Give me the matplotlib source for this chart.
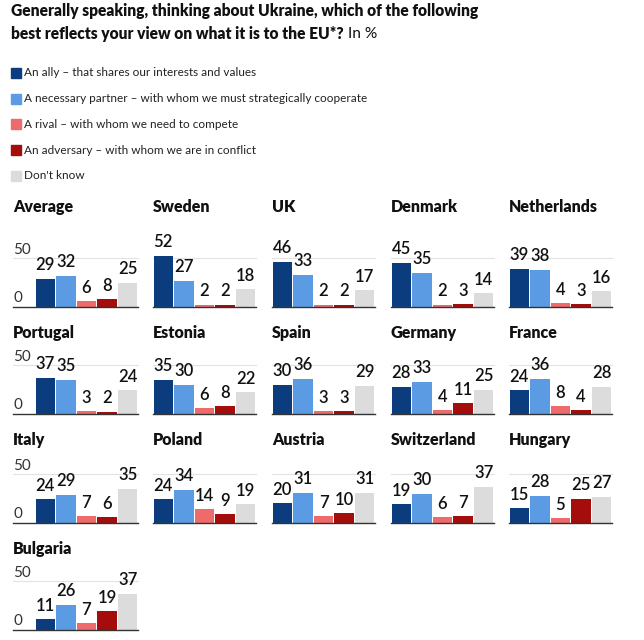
import matplotlib
matplotlib.use('Agg')
import matplotlib.pyplot as plt
from matplotlib.patches import Rectangle

plt.rcParams['font.family'] = ['Lato', 'DejaVu Sans']

# data, in %
countries = ['Average', 'Sweden', 'UK', 'Denmark', 'Netherlands',
             'Portugal', 'Estonia', 'Spain', 'Germany', 'France',
             'Italy', 'Poland', 'Austria', 'Switzerland', 'Hungary',
             'Bulgaria']
ally = [29, 52, 46, 45, 39, 37, 35, 30, 28, 24, 24, 24, 20, 19, 15, 11]
partner = [32, 27, 33, 35, 38, 35, 30, 36, 33, 36, 29, 34, 31, 30, 28, 26]
rival = [6, 2, 2, 2, 4, 3, 6, 3, 4, 8, 7, 14, 7, 6, 5, 7]
adversary = [8, 2, 2, 3, 3, 2, 8, 3, 11, 4, 6, 9, 10, 7, 25, 19]
dont_know = [25, 18, 17, 14, 16, 24, 22, 29, 25, 28, 35, 19, 31, 37, 27, 37]

categories = ['An ally – that shares our interests and values',
              'A necessary partner – with whom we must strategically cooperate',
              'A rival – with whom we need to compete',
              'An adversary – with whom we are in conflict',
              "Don't know"]
colors = ['#0b3d7e', '#5b9be3', '#ef6b6b', '#a50c0c', '#dcdcdc']

W, H = 644, 640
fig = plt.figure(figsize=(W / 100, H / 100), dpi=100)


def fx(px):
    return px / W


def fy(py):
    return 1 - py / H


# title
fig.text(fx(11), fy(11), 'Generally speaking, thinking about Ukraine, which of the following',
         fontsize=11.2, fontweight='heavy', va='center', color='#111111')
t = fig.text(fx(11), fy(34), 'best reflects your view on what it is to the EU*?',
             fontsize=11.2, fontweight='heavy', va='center', color='#111111')
fig.canvas.draw()
bb = t.get_window_extent()
fig.text(bb.x1 / W + fx(4), fy(34), 'In %', fontsize=11.2, va='center', color='#111111')

# legend
for i, (lab, c) in enumerate(zip(categories, colors)):
    y = 73 + i * 25.7
    fig.patches.append(Rectangle((fx(11), fy(y + 5)), fx(10), 10 / H, color=c,
                                 transform=fig.transFigure, figure=fig))
    fig.text(fx(24), fy(y), lab, fontsize=8.5, va='center', color='#222222')

col_left = [35, 153, 272, 391, 509]
row_base = [307, 414, 523, 630]
row_title = [207, 333, 440, 549]
pw = 103
ph = 49

for k, name in enumerate(countries):
    r, c = divmod(k, 5)
    left = col_left[c]
    base = row_base[r]
    ax = fig.add_axes([fx(left), fy(base), fx(pw), ph / H])
    vals = [ally[k], partner[k], rival[k], adversary[k], dont_know[k]]
    ax.bar(range(5), vals, width=0.95, color=colors, clip_on=False, zorder=2)
    ax.set_xlim(-0.5, 4.5)
    ax.set_ylim(0, 50)
    ax.axis('off')
    ext = -22 / pw if c == 0 else 0
    ax.axhline(50, xmin=ext, xmax=1, color='#e2e2e2', lw=0.8, clip_on=False, zorder=1)
    ax.axhline(0, xmin=ext, xmax=1, color='#333333', lw=1.0, clip_on=False, zorder=3)
    for i, v in enumerate(vals):
        ax.annotate(str(v), (i, v), xytext=(0, 4), textcoords='offset points',
                    ha='center', va='bottom', fontsize=12, fontweight='semibold',
                    color='#111111', annotation_clip=False)
    tx = 13 if c == 0 else left
    fig.text(fx(tx), fy(row_title[r]), name, fontsize=11.5, fontweight='heavy',
             va='center', color='#111111')
    if c == 0:
        fig.text(fx(13), fy(base - 49 - 8), '50', fontsize=11, va='center', color='#333333')
        fig.text(fx(13), fy(base - 9), '0', fontsize=11, va='center', color='#333333')

fig.savefig('out.png', dpi=100, facecolor='white')
